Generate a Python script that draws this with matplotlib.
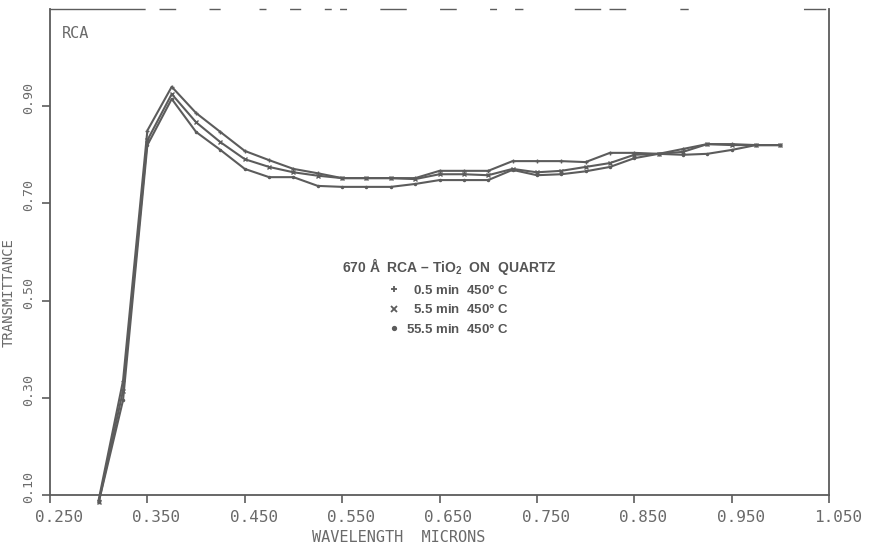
import numpy as np
import matplotlib
matplotlib.use("Agg")
import matplotlib.pyplot as plt
from matplotlib.lines import Line2D
from matplotlib.transforms import ScaledTranslation

plt.rcParams['mathtext.fontset'] = 'custom'
plt.rcParams['mathtext.rm'] = 'Liberation Sans:bold'
plt.rcParams['mathtext.bf'] = 'Liberation Sans:bold'

# wavelength in microns, 0.300 .. 1.000 step 0.025
wavelength = [0.300, 0.325, 0.350, 0.375, 0.400, 0.425, 0.450, 0.475, 0.500, 0.525,
              0.550, 0.575, 0.600, 0.625, 0.650, 0.675, 0.700, 0.725, 0.750, 0.775,
              0.800, 0.825, 0.850, 0.875, 0.900, 0.925, 0.950, 0.975, 1.000]

# transmittance
t_05min = [0.090, 0.335, 0.850, 0.940, 0.886, 0.847, 0.808, 0.789, 0.771, 0.762,
           0.752, 0.752, 0.752, 0.752, 0.767, 0.767, 0.767, 0.787, 0.787, 0.787,
           0.785, 0.804, 0.804, 0.802, 0.812, 0.822, 0.822, 0.820, 0.820]
t_55min = [0.085, 0.315, 0.830, 0.925, 0.867, 0.826, 0.791, 0.775, 0.764, 0.757,
           0.752, 0.752, 0.752, 0.750, 0.760, 0.760, 0.758, 0.771, 0.764, 0.767,
           0.775, 0.783, 0.800, 0.802, 0.806, 0.822, 0.820, 0.820, 0.820]
t_555min = [0.085, 0.295, 0.820, 0.915, 0.847, 0.810, 0.771, 0.754, 0.754, 0.736,
            0.734, 0.734, 0.734, 0.740, 0.748, 0.748, 0.748, 0.769, 0.758, 0.760,
            0.766, 0.775, 0.793, 0.802, 0.800, 0.802, 0.810, 0.820, 0.820]

series_labels = ["  0.5 min  450$\\degree$ C", "  5.5 min  450$\\degree$ C", "55.5 min  450$\\degree$ C"]
series_markers = ['+', 'x', '.']

x_ticks = [0.25, 0.35, 0.45, 0.55, 0.65, 0.75, 0.85, 0.95, 1.05]
x_tick_labels = ['0.250', '0.350', '0.450', '0.550', '0.650', '0.750', '0.850', '0.950', '1.050']
y_ticks = [0.10, 0.30, 0.50, 0.70, 0.90]
y_tick_labels = ['0.10', '0.30', '0.50', '0.70', '0.90']

ink = '#5c5c5c'
txt = '#6a6a6a'
mono = 'DejaVu Sans Mono'

fig = plt.figure(figsize=(8.74, 5.46), dpi=100)
ax = fig.add_axes([50/874, 51/546, 779/874, 486/546])

for ys, m in zip([t_05min, t_55min, t_555min], series_markers):
    ax.plot(wavelength, ys, color=ink, linewidth=1.5, marker=m, markersize=3,
            markeredgewidth=1.0, clip_on=False)

ax.set_xlim(0.25, 1.05)
ax.set_ylim(0.10, 1.10)

ax.set_xticks(x_ticks)
ax.set_xticklabels(x_tick_labels, fontfamily=mono, fontsize=11.5, color=txt)
ax.set_yticks(y_ticks)
ax.set_yticklabels(y_tick_labels, fontfamily=mono, fontsize=9.5, color=txt,
                   rotation=90, va='center')
ax.tick_params(axis='both', direction='out', length=6, width=1.2, color=ink)
ax.tick_params(axis='x', pad=5)
ax.tick_params(axis='y', pad=5)

for lab in ax.get_xticklabels():
    lab.set_transform(lab.get_transform() + ScaledTranslation(9/100, 0, fig.dpi_scale_trans))
for lab in ax.get_yticklabels():
    lab.set_transform(lab.get_transform() + ScaledTranslation(0, 8/100, fig.dpi_scale_trans))

for side in ['left', 'right', 'bottom', 'top']:
    ax.spines[side].set_color(ink)
    ax.spines[side].set_linewidth(1.3)
# faded top border on the scan
ax.spines['top'].set_linewidth(1.0)
ax.spines['top'].set_linestyle((0, (68, 11, 11, 25, 7, 29, 4, 18, 7, 18, 4, 7, 4, 25,
                                    18, 25, 11, 25, 4, 14, 5, 38, 18, 7, 11, 40, 5, 84, 15, 20)))

fig.text(9/874, 0.5 - 20/546, 'TRANSMITTANCE', rotation=90, ha='center', va='center',
         fontfamily=mono, fontsize=10, color=txt)
fig.text(312/874, 9/546, 'WAVELENGTH  MICRONS', ha='left', va='center',
         fontfamily=mono, fontsize=11, color=txt)
ax.text(0.015, 0.965, 'RCA', transform=ax.transAxes, ha='left', va='top',
        fontfamily=mono, fontsize=11, color=txt)

handles = [Line2D([], [], color=ink, marker=m, linestyle='none', markersize=5,
                  markeredgewidth=1.3) for m in series_markers]
leg = ax.legend(handles, series_labels, loc='center', frameon=False,
                title='670 Å  RCA – TiO$_2$  ON  QUARTZ',
                prop={'family': 'Liberation Sans', 'weight': 'bold', 'size': 9.5},
                title_fontproperties={'family': 'Liberation Sans', 'weight': 'bold', 'size': 10},
                handlelength=0.8, handletextpad=0.5, labelspacing=0.42)
leg.set_bbox_to_anchor((449/874, (546 - 296)/546), transform=fig.transFigure)
for t in leg.get_texts():
    t.set_color('#555555')
leg.get_title().set_color('#555555')

fig.savefig('out.png', dpi=100, facecolor='white')
